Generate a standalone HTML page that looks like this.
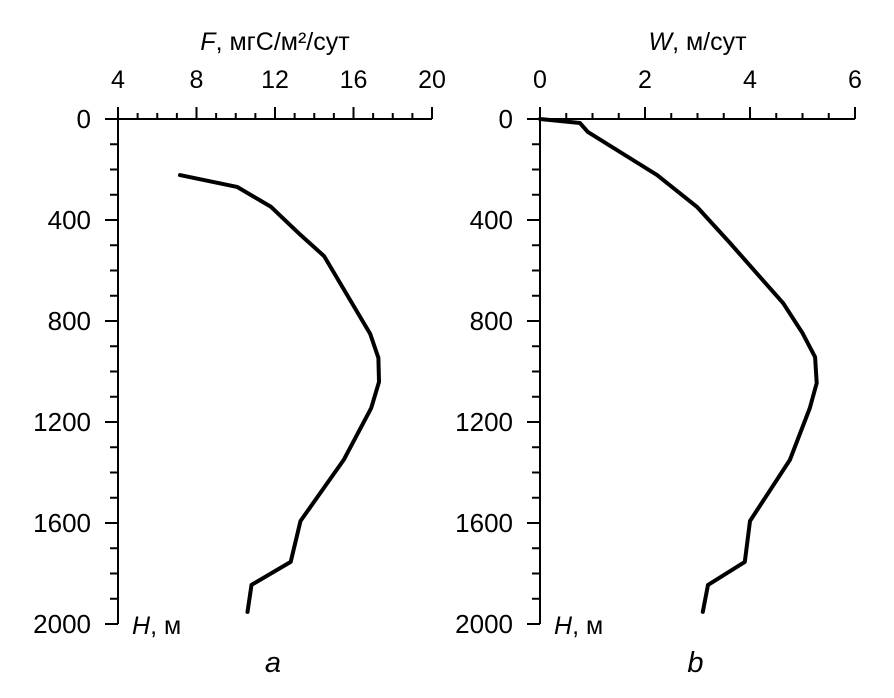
<!DOCTYPE html>
<html><head><meta charset="utf-8"><style>
body{margin:0;background:#fff}
svg text{font-family:"Liberation Sans",sans-serif;fill:#000}
</style></head><body>
<svg width="894" height="693" viewBox="0 0 894 693">
<g id="g"></g>
</svg>
<script>
const depthsA=[222,269,348,459,543,851,946,1041,1145,1350,1592,1754,1845,1952];
const fluxA=[7.16,10.07,11.8,13.3,14.5,16.85,17.27,17.3,16.9,15.5,13.3,12.8,10.8,10.6];
const depthsB=[0,16,51,222,348,491,729,848,943,1046,1145,1350,1592,1754,1845,1952];
const speedB=[0,0.76,0.91,2.23,2.99,3.62,4.63,5.0,5.24,5.27,5.14,4.76,4.0,3.9,3.2,3.1];
const xTicksA=[4,8,12,16,20];
const xTicksB=[0,2,4,6];
const yTicks=[0,400,800,1200,1600,2000];
const NS="http://www.w3.org/2000/svg";
const g=document.getElementById('g');
function el(t,a,txt){const e=document.createElementNS(NS,t);for(const k in a)e.setAttribute(k,a[k]);if(txt!=null)e.textContent=txt;g.appendChild(e);return e;}
const y0=119,y1=624;
function yS(d){return y0+(y1-y0)*d/2000;}
function panel(x0,x1,xmin,xmax,xt,minorStep,xs,ds,title,letter,pfx){
  const xS=v=>x0+(x1-x0)*(v-xmin)/(xmax-xmin);
  let e=el('line',{x1:x0-13,y1:y0,x2:x1,y2:y0,stroke:'#000','stroke-width':2});
  
  e=el('line',{x1:x0,y1:y0,x2:x0,y2:y1,stroke:'#000','stroke-width':2});
  
  for(let v=xmin;v<=xmax+1e-9;v+=minorStep){
    const maj=xt.some(t=>Math.abs(t-v)<1e-9);
    e=el('line',{x1:xS(v),y1:y0,x2:xS(v),y2:y0-(maj?12:6),stroke:'#000','stroke-width':2});
    
  }
  xt.forEach(v=>{e=el('text',{x:xS(v),y:88,'font-size':25,'text-anchor':'middle'},v);
    });
  for(let d=100;d<=2000;d+=100){
    const maj=d%400===0;
    e=el('line',{x1:x0,y1:yS(d),x2:x0-(maj?13:8),y2:yS(d),stroke:'#000','stroke-width':2});
    
  }
  yTicks.forEach(d=>{e=el('text',{x:x0-27,y:yS(d)+9,'font-size':26,'text-anchor':'end'},d);
    });
  e=el('text',{x:(x0+x1)/2,y:50,'font-size':25,'text-anchor':'middle'});
  e.innerHTML=title;
  e=el('text',{x:x0+14,y:634,'font-size':25});
  e.innerHTML='<tspan font-style="italic">H</tspan>, м';
  e=el('text',{x:(x0+x1)/2-2,y:672,'font-size':29,'font-style':'italic','text-anchor':'middle'},letter);
  
  const pts=xs.map((v,i)=>xS(v).toFixed(1)+','+yS(ds[i]).toFixed(1)).join(' ');
  e=el('polyline',{points:pts,fill:'none',stroke:'#000','stroke-width':4,'stroke-linejoin':'round','stroke-linecap':'round'});
  
}
panel(118,432,4,20,xTicksA,1,fluxA,depthsA,'<tspan font-style="italic">F</tspan>, мгС/м²/сут','a','panel-a');
panel(540,855,0,6,xTicksB,0.5,speedB,depthsB,'<tspan font-style="italic">W</tspan>, м/сут','b','panel-b');
</script>
</body></html>
